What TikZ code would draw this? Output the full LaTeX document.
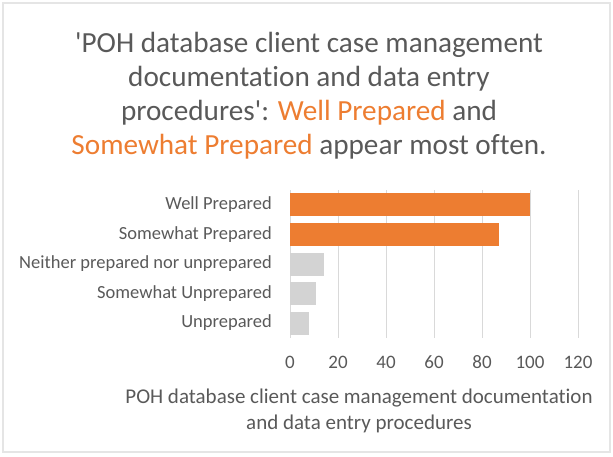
\documentclass[tikz,border=0pt]{standalone}
\usepackage{fontspec}
\setmainfont[Ligatures=NoCommon]{Carlito}
\definecolor{barorange}{HTML}{ED7D31}
\definecolor{bargray}{HTML}{D3D3D3}
\definecolor{textgray}{HTML}{595959}
\definecolor{gridgray}{HTML}{D9D9D9}
\tikzset{
  titletext/.style={text=textgray, font=\fontsize{29.2}{34}\selectfont, align=center},
  catlabel/.style={text=textgray, font=\fontsize{18.5}{20}\selectfont, anchor=east, inner sep=0pt},
  ticklabel/.style={text=textgray, font=\fontsize{19}{20}\selectfont, inner sep=0pt},
  axistitle/.style={text=textgray, font=\fontsize{21}{26}\selectfont, align=center},
}
\begin{document}
\begin{tikzpicture}[x=1pt, y=-1pt]
\useasboundingbox (0,0) rectangle (613,456);
\draw[gray!20, line width=1.2pt] (3,3) rectangle (610,452);

% Title.
\node[titletext] (title) at (309,96) {\textquotesingle POH database client case management\\
documentation and data entry\\
procedures\textquotesingle: \textcolor{barorange}{Well Prepared} and\\
\textcolor{barorange}{Somewhat Prepared} appear most often.};

% Grid lines.
\foreach \v in {0,20,...,120}
  \draw[gridgray, line width=1pt] (290+2.4*\v,190) -- (290+2.4*\v,338);

% Bars.
\fill[barorange] (290,193) rectangle (290+2.4*100,216);
\fill[barorange] (290,223) rectangle (290+2.4*87,246);
\fill[bargray]   (290,252.5) rectangle (290+2.4*14,275.5);
\fill[bargray]   (290,282) rectangle (290+2.4*11,305);
\fill[bargray]   (290,311.5) rectangle (290+2.4*8,334.5);

% Y labels.
\node[catlabel] (wp) at (272,204.5) {Well Prepared};
\node[catlabel] (sp) at (272,234.5) {Somewhat Prepared};
\node[catlabel] (np) at (272,264) {Neither prepared nor unprepared};
\node[catlabel] (su) at (272,293.5) {Somewhat Unprepared};
\node[catlabel] (up) at (272,323) {Unprepared};

% X labels.
\node[ticklabel] (t0)   at (290,362) {0};
\node[ticklabel] (t20)  at (338,362) {20};
\node[ticklabel] (t40)  at (386,362) {40};
\node[ticklabel] (t60)  at (434,362) {60};
\node[ticklabel] (t80)  at (482,362) {80};
\node[ticklabel] (t100) at (530,362) {100};
\node[ticklabel] (t120) at (578,362) {120};

\node[axistitle] (xtitle) at (359,411) {POH database client case management documentation\\
and data entry procedures};
\end{tikzpicture}
\end{document}
